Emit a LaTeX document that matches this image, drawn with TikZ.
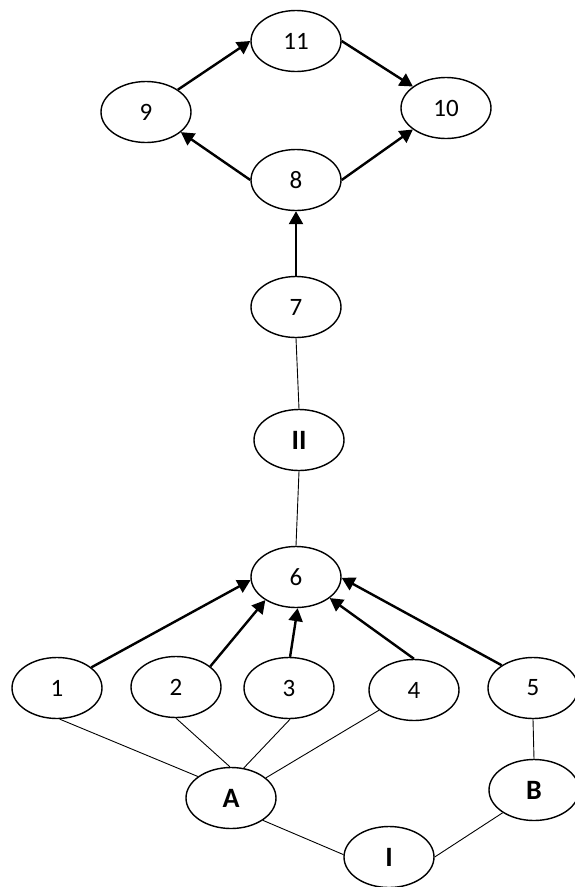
\documentclass[tikz,border=0pt]{standalone}
\usepackage{fontspec}
\setmainfont{Carlito}
\usetikzlibrary{shapes.geometric,arrows.meta}
\begin{document}
\begin{tikzpicture}[x=1pt,y=-1pt]
      \tikzset{oval/.style={draw, ellipse, line width=1.4pt, inner sep=0pt, minimum width=90pt, minimum height=61pt, font=\fontsize{25}{27}\selectfont},
               boldoval/.style={oval, font=\fontsize{28}{30}\selectfont\bfseries}}
      \useasboundingbox (0,0) rectangle (574,887);
%% Vertices
      	\node[oval] (v11) at (296,41) {11};
      	\node[oval] (v9) at (146,112) {9};
      	\node[oval] (v10) at (446,108) {10};
      	\node[oval] (v8) at (296,180) {8};
      	\node[oval] (v7) at (296,307) {7};
      	\node[boldoval] (vII) at (299,440) {II};
      	\node[oval] (v6) at (296,577) {6};
      	\node[oval] (v1) at (57,688) {1};
      	\node[oval] (v2) at (176,687) {2};
      	\node[oval] (v3) at (289,688) {3};
      	\node[oval] (v4) at (414,690) {4};
      	\node[oval] (v5) at (533,688) {5};
      	\node[boldoval] (vA) at (231,798) {A};
      	\node[boldoval] (vB) at (534,790) {B};
      	\node[boldoval] (vI) at (389,857) {I};
%Edges
		\path[->, > = {Triangle[length=13pt,width=14pt]}, line width=2.4pt] (v9.35) edge (v11.180);
		\path[->, > = {Triangle[length=13pt,width=14pt]}, line width=2.4pt] (v11.0) edge (v10.147);
		\path[->, > = {Triangle[length=13pt,width=14pt]}, line width=2.4pt] (v8.180) edge (v9.330);
		\path[->, > = {Triangle[length=13pt,width=14pt]}, line width=2.4pt] (v8.0) edge (v10.213);
		\path[->, > = {Triangle[length=13pt,width=14pt]}, line width=2.4pt] (v7.north) edge (v8.south);
		\path[->, > = {Triangle[length=13pt,width=14pt]}, line width=2.4pt] (v1.31) edge (v6.184);
		\path[->, > = {Triangle[length=13pt,width=14pt]}, line width=2.4pt] (v2.31) edge (v6.217);
		\path[->, > = {Triangle[length=13pt,width=14pt]}, line width=2.4pt] (v3.88) edge (v6.273);
		\path[->, > = {Triangle[length=13pt,width=14pt]}, line width=2.4pt] (v4.90) edge (v6.328);
		\path[->, > = {Triangle[length=13pt,width=14pt]}, line width=2.4pt] (v5.144) edge (v6.359);
		\path[line width=0.9pt] (v7.south) edge (vII.north);
		\path[line width=0.9pt] (vII.south) edge (v6.north);
		\path[line width=0.9pt] (v1.275) edge (vA.147);
		\path[line width=0.9pt] (v2.270) edge (vA.92);
		\path[line width=0.9pt] (v3.272) edge (vA.67);
		\path[line width=0.9pt] (v4.210) edge (vA.30);
		\path[line width=0.9pt] (v5.south) edge (vB.north);
		\path[line width=0.9pt] (vA.325) edge (vI.177);
		\path[line width=0.9pt] (vB.216) edge (vI.0);
	\end{tikzpicture}
\end{document}
